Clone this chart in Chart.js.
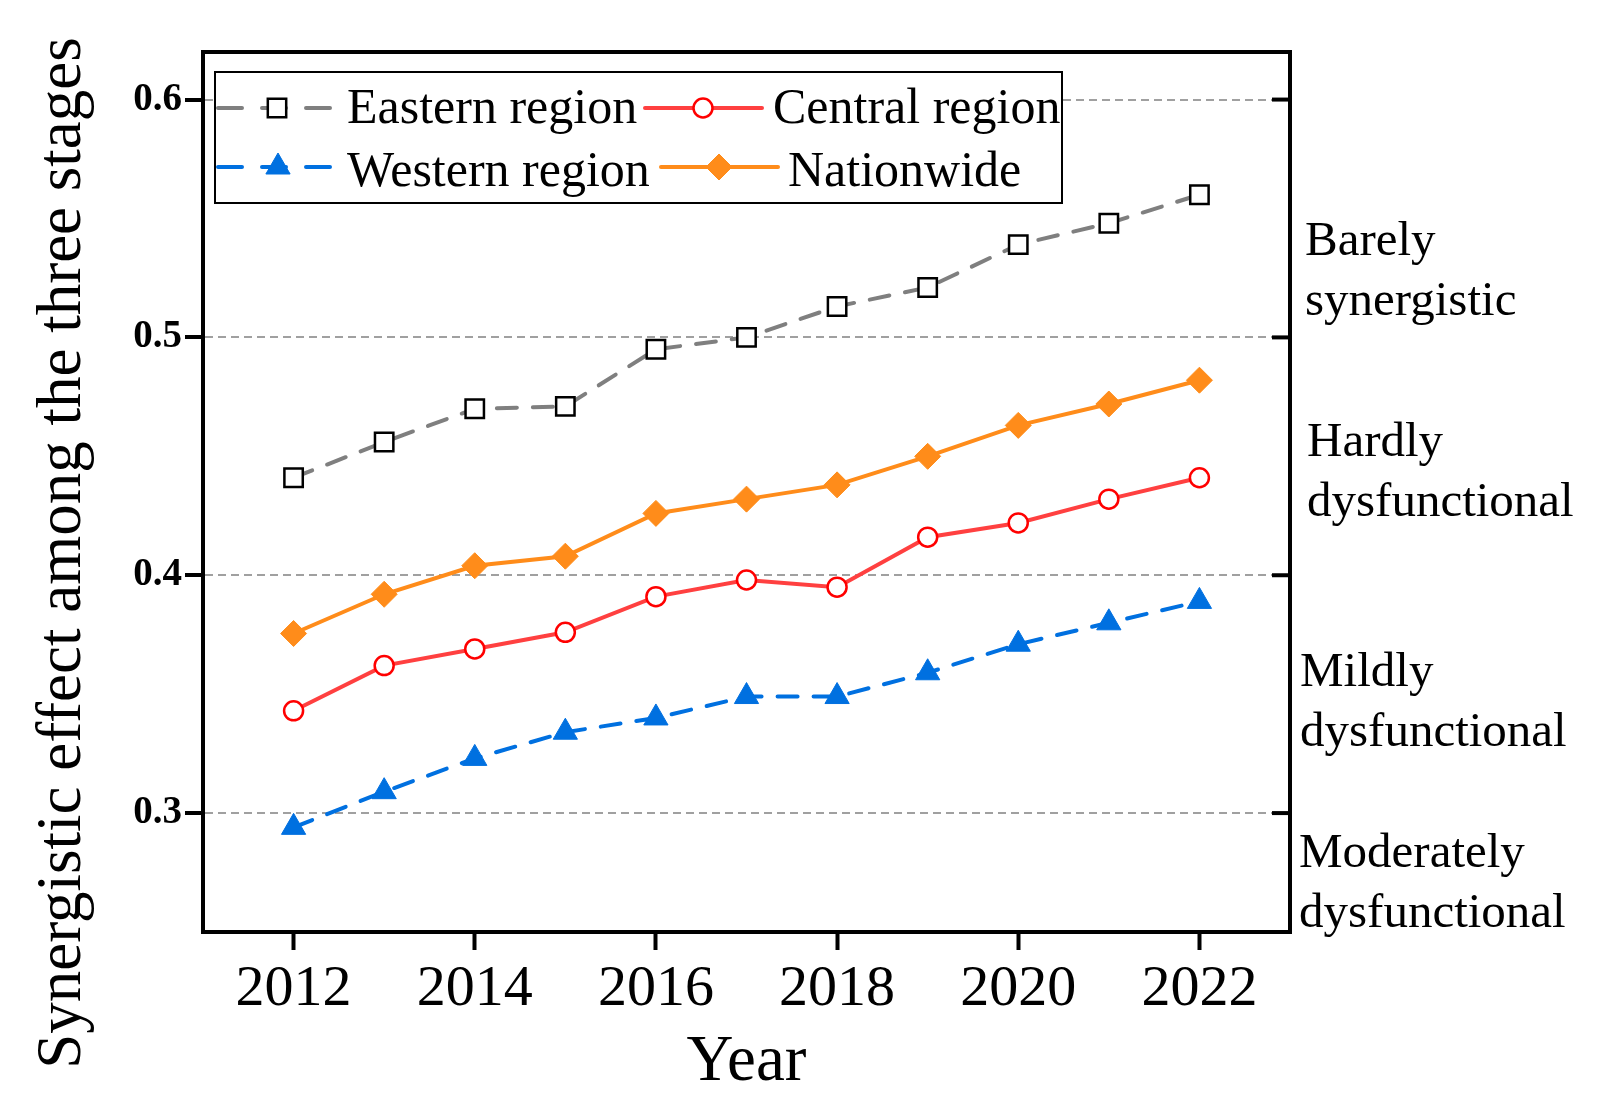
<!DOCTYPE html>
<html lang="en">
<head>
  <meta charset="UTF-8">
  <title>Synergistic effect among the three stages</title>
  <script src="https://cdn.jsdelivr.net/npm/chart.js"></script>
  <style>
    body {
      margin: 0;
      background: white;
    }
    canvas {
      display: block;
    }
  </style>
</head>
<body>

  <canvas id="stagesChart" width="1603" height="1104"></canvas>

  <script>
    const years = [2012, 2013, 2014, 2015, 2016, 2017, 2018, 2019, 2020, 2021, 2022];
    const eastern = [0.441, 0.456, 0.470, 0.471, 0.495, 0.500, 0.513, 0.521, 0.539, 0.548, 0.560];
    const central = [0.343, 0.362, 0.369, 0.376, 0.391, 0.398, 0.395, 0.416, 0.422, 0.432, 0.441];
    const western = [0.294, 0.309, 0.323, 0.334, 0.340, 0.349, 0.349, 0.359, 0.371, 0.380, 0.389];
    const nationwide = [0.3755, 0.392, 0.404, 0.408, 0.426, 0.432, 0.438, 0.450, 0.463, 0.472, 0.482];

    const xTicks = [2012, 2014, 2016, 2018, 2020, 2022];
    const yTicks = [0.3, 0.4, 0.5, 0.6];
    const yTickLabels = ['0.3', '0.4', '0.5', '0.6'];
    const stageLabels = [
      ['Barely', 'synergistic'],
      ['Hardly', 'dysfunctional'],
      ['Mildly', 'dysfunctional'],
      ['Moderately', 'dysfunctional']
    ];

    const SERIF = "'Liberation Serif', 'Times New Roman', serif";

    function points(values) {
      return years.map((y, i) => ({ x: y, y: values[i] }));
    }

    // draws one marker in the same style the chart uses
    function drawMarker(ctx, style, x, y, r, fill, stroke, lw) {
      ctx.save();
      ctx.beginPath();
      if (style === 'rect') {
        const s = r * Math.SQRT1_2;
        ctx.rect(x - s, y - s, 2 * s, 2 * s);
      } else if (style === 'circle') {
        ctx.arc(x, y, r, 0, Math.PI * 2);
      } else if (style === 'triangle') {
        let a = 0;
        ctx.moveTo(x + Math.sin(a) * r, y - Math.cos(a) * r);
        a += Math.PI * 2 / 3;
        ctx.lineTo(x + Math.sin(a) * r, y - Math.cos(a) * r);
        a += Math.PI * 2 / 3;
        ctx.lineTo(x + Math.sin(a) * r, y - Math.cos(a) * r);
        ctx.closePath();
      } else if (style === 'rectRot') {
        ctx.moveTo(x - r, y);
        ctx.lineTo(x, y - r);
        ctx.lineTo(x + r, y);
        ctx.lineTo(x, y + r);
        ctx.closePath();
      }
      ctx.fillStyle = fill;
      ctx.fill();
      ctx.lineWidth = lw;
      ctx.strokeStyle = stroke;
      ctx.stroke();
      ctx.restore();
    }

    const decorPlugin = {
      id: 'decor',
      afterDraw(chart) {
        const ctx = chart.ctx;
        const area = chart.chartArea;
        const yScale = chart.scales.y;

        // frame
        ctx.save();
        ctx.lineWidth = 4;
        ctx.strokeStyle = '#000';
        ctx.strokeRect(area.left, area.top, area.right - area.left, area.bottom - area.top);

        // inward ticks on the right side
        yScale.ticks.forEach(t => {
          const py = yScale.getPixelForValue(t.value);
          ctx.beginPath();
          ctx.moveTo(area.right - 18, py);
          ctx.lineTo(area.right, py);
          ctx.stroke();
        });
        ctx.restore();

        // y title
        ctx.save();
        ctx.translate(80, 553);
        ctx.rotate(-Math.PI / 2);
        ctx.font = '63px ' + SERIF;
        ctx.fillStyle = '#000';
        ctx.textAlign = 'center';
        ctx.textBaseline = 'alphabetic';
        ctx.fillText('Synergistic effect among the three stages', 0, 0);
        ctx.restore();

        // stage labels on the right
        const stageCenters = [0.5287, 0.4443, 0.3474, 0.2714];
        const stageX = [1305, 1307, 1300, 1299];
        ctx.save();
        ctx.font = '49px ' + SERIF;
        ctx.fillStyle = '#000';
        ctx.textAlign = 'left';
        ctx.textBaseline = 'alphabetic';
        stageLabels.forEach((lines, i) => {
          const cy = yScale.getPixelForValue(stageCenters[i]);
          ctx.fillText(lines[0], stageX[i], cy - 30 + 16);
          ctx.fillText(lines[1], stageX[i], cy + 30 + 16);
        });
        ctx.restore();

        // legend
        const box = { x: 215, y: 72, w: 847, h: 131 };
        ctx.save();
        ctx.fillStyle = '#fff';
        ctx.fillRect(box.x, box.y, box.w, box.h);
        ctx.lineWidth = 2;
        ctx.strokeStyle = '#000';
        ctx.strokeRect(box.x, box.y, box.w, box.h);
        ctx.restore();

        const items = [
          { ds: 0, x1: 218, x2: 331, mx: 277, tx: 347, ly: 108, ty: 123 },
          { ds: 1, x1: 645, x2: 762, mx: 703, tx: 773, ly: 108, ty: 123 },
          { ds: 2, x1: 218, x2: 331, mx: 278, tx: 347, ly: 167, ty: 186 },
          { ds: 3, x1: 661, x2: 778, mx: 719, tx: 788, ly: 167, ty: 186 }
        ];
        items.forEach(it => {
          const ds = chart.data.datasets[it.ds];
          ctx.save();
          ctx.beginPath();
          ctx.lineWidth = ds.borderWidth;
          ctx.strokeStyle = ds.borderColor;
          ctx.lineCap = 'round';
          ctx.setLineDash(ds.borderDash && ds.borderDash.length ? [24, 20] : []);
          ctx.moveTo(it.x1, it.ly);
          ctx.lineTo(it.x2, it.ly);
          ctx.stroke();
          ctx.restore();
          drawMarker(ctx, ds.pointStyle, it.mx, it.ly, ds.pointRadius,
            ds.pointBackgroundColor, ds.pointBorderColor, ds.pointBorderWidth);
          ctx.save();
          ctx.font = '50px ' + SERIF;
          ctx.fillStyle = '#000';
          ctx.textBaseline = 'alphabetic';
          ctx.fillText(ds.label, it.tx, it.ty);
          ctx.restore();
        });
      }
    };

    const ctx = document.getElementById('stagesChart').getContext('2d');

    new Chart(ctx, {
      type: 'line',
      data: {
        datasets: [
          {
            label: 'Eastern region',
            data: points(eastern),
            borderColor: '#7F7F7F',
            borderWidth: 4,
            borderDash: [20, 16],
            borderCapStyle: 'round',
            pointStyle: 'rect',
            pointRadius: 13,
            pointBackgroundColor: '#fff',
            pointBorderColor: '#000',
            pointBorderWidth: 2.5
          },
          {
            label: 'Central region',
            data: points(central),
            borderColor: '#FF4040',
            borderWidth: 4,
            pointStyle: 'circle',
            pointRadius: 9.5,
            pointBackgroundColor: '#fff',
            pointBorderColor: '#FF0000',
            pointBorderWidth: 2.5
          },
          {
            label: 'Western region',
            data: points(western),
            borderColor: '#0070E0',
            borderWidth: 4,
            borderDash: [20, 16],
            borderCapStyle: 'round',
            pointStyle: 'triangle',
            pointRadius: 14,
            pointBackgroundColor: '#0070E0',
            pointBorderColor: '#0070E0',
            pointBorderWidth: 1
          },
          {
            label: 'Nationwide',
            data: points(nationwide),
            borderColor: '#FF8C1A',
            borderWidth: 4,
            pointStyle: 'rectRot',
            pointRadius: 13,
            pointBackgroundColor: '#FF8C1A',
            pointBorderColor: '#FF8C1A',
            pointBorderWidth: 1
          }
        ]
      },
      options: {
        responsive: false,
        devicePixelRatio: 1,
        animation: false,
        layout: {
          padding: { left: 0, top: 52, right: 313, bottom: 0 }
        },
        plugins: {
          legend: { display: false },
          tooltip: { enabled: false }
        },
        elements: {
          line: { tension: 0 }
        },
        scales: {
          x: {
            type: 'linear',
            min: 2011,
            max: 2023,
            afterBuildTicks: scale => {
              scale.ticks = xTicks.map(v => ({ value: v }));
            },
            afterFit: scale => {
              scale.height = 172;
            },
            ticks: {
              color: '#000',
              font: { family: SERIF, size: 58 },
              padding: 5,
              maxRotation: 0,
              autoSkip: false,
              callback: v => String(v)
            },
            grid: {
              drawOnChartArea: false,
              drawTicks: true,
              tickLength: 18,
              tickWidth: 4,
              tickColor: '#000'
            },
            border: { display: true, width: 4, color: '#000' },
            title: {
              display: true,
              text: 'Year',
              color: '#000',
              font: { family: SERIF, size: 65 },
              padding: { top: 0, bottom: 2 }
            }
          },
          y: {
            type: 'linear',
            min: 0.25,
            max: 0.62,
            afterBuildTicks: scale => {
              scale.ticks = yTicks.map(v => ({ value: v }));
            },
            afterFit: scale => {
              scale.width = 203;
            },
            ticks: {
              color: '#000',
              font: { family: SERIF, size: 39, weight: 'bold' },
              padding: 3,
              callback: (v, i) => yTickLabels[i]
            },
            grid: {
              color: '#A0A0A0',
              lineWidth: 2,
              drawTicks: true,
              tickLength: 18,
              tickWidth: 4,
              tickColor: '#000'
            },
            border: { display: true, width: 4, color: '#000', dash: [8, 5] }
          }
        }
      },
      plugins: [decorPlugin]
    });
  </script>

</body>
</html>
